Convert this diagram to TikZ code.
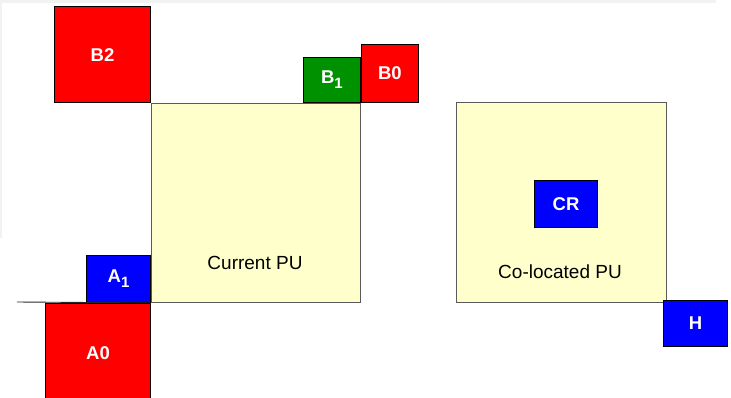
\documentclass[tikz,border=0pt]{standalone}
\usepackage{fontspec}
\setmainfont{Liberation Sans}
\usetikzlibrary{positioning}
\definecolor{puyellow}{RGB}{255,255,204}
\definecolor{blkred}{RGB}{255,0,0}
\definecolor{blkgreen}{RGB}{0,145,0}
\definecolor{blkblue}{RGB}{0,0,255}
\definecolor{edgegray}{RGB}{90,90,90}
\newcommand{\lowsub}[1]{\raisebox{-5pt}{\fontsize{15}{15}\selectfont #1}}

\begin{document}
\begin{tikzpicture}[x=1pt, y=-1pt,
  pubox/.style={draw=edgegray, fill=puyellow, line width=0.9pt, inner sep=0pt},
  blk/.style={draw=black, line width=0.9pt, inner sep=0pt, text=white, font=\fontsize{18.5}{18.5}\selectfont\bfseries},
  lbl/.style={font=\fontsize{19}{19}\selectfont, text=black}]
\clip (0,0) rectangle (731,397);
\fill[gray!10] (0,0) rectangle (716,2.5);
\fill[gray!10] (0,0) rectangle (2,238);
% current PU and its neighbours
\node[pubox, minimum width=209pt, minimum height=199pt, anchor=north west] (cur) at (151,103) {};
\node[lbl] (curlbl) at (255,263) {Current PU};
\coordinate (base) at (17,302);
\node[blk, fill=blkred, minimum width=96pt, minimum height=96pt, anchor=south east] (b2) at (cur.north west) {B2};
\node[blk, fill=blkgreen, minimum width=57pt, minimum height=45pt, anchor=south east] (b1) at (cur.north east) {B\lowsub{1}};
\node[blk, fill=blkred, minimum width=57pt, minimum height=58pt, anchor=south west] (b0) at (cur.north east) {B0};
\node[blk, fill=blkblue, minimum width=64pt, minimum height=47pt, anchor=south east] (a1) at (cur.south west) {A\lowsub{1}};
\node[blk, fill=blkred, minimum width=105pt, minimum height=100pt, anchor=north east] (a0) at (cur.south west) {A0};
\draw[black!85, line width=0.9pt] (base) -- (cur.south west);
% co-located PU
\node[pubox, minimum width=210pt, minimum height=200pt, anchor=north west] (col) at (456,102) {};
\node[lbl] (collbl) at (560,272) {Co-located PU};
\node[blk, fill=blkblue, minimum width=63pt, minimum height=47pt] (cr) at (566,204) {CR};
\node[blk, fill=blkblue, minimum width=64pt, minimum height=46pt, anchor=north west] (h) at (663,300) {H};
\end{tikzpicture}
\end{document}
